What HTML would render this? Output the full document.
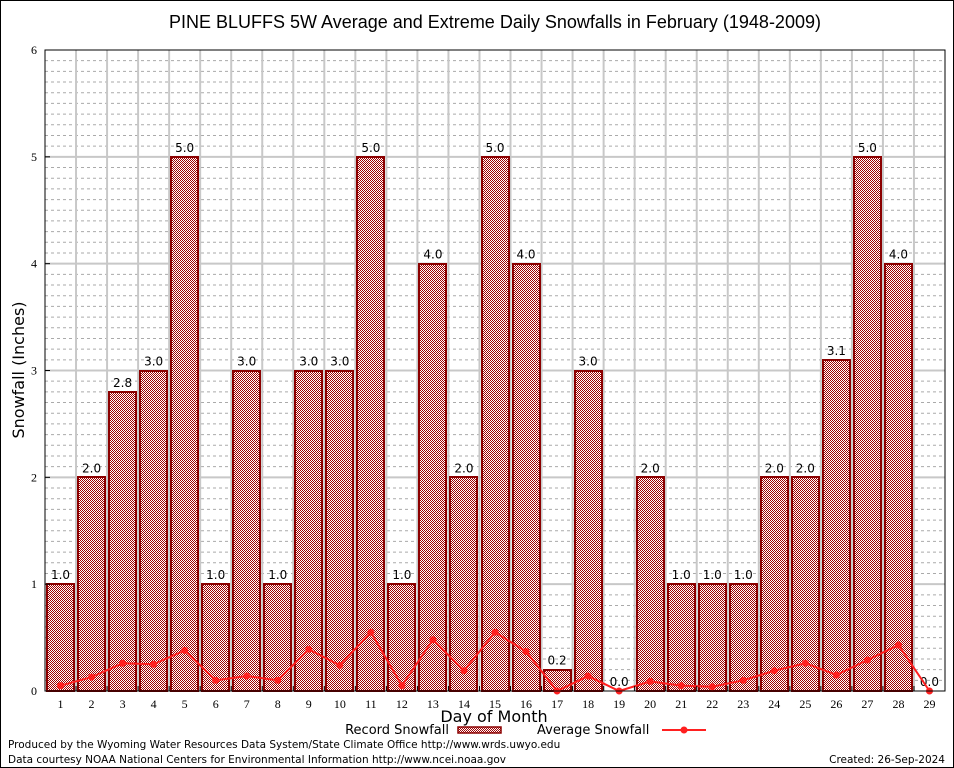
<!DOCTYPE html>
<html><head><meta charset="utf-8"><style>
html,body{margin:0;padding:0;background:#fff;}
svg{display:block;font-family:"DejaVu Sans","Liberation Sans",sans-serif;}
</style></head><body>
<svg id="chart" width="954" height="768" xmlns="http://www.w3.org/2000/svg">
<defs>
<pattern id="chk" width="2" height="2" patternUnits="userSpaceOnUse">
<rect width="2" height="2" fill="#fff"/><rect width="1" height="1" fill="#a00000"/><rect x="1" y="1" width="1" height="1" fill="#a00000"/>
</pattern>
</defs>
<rect x="0.5" y="0.5" width="953" height="767" fill="#fff" stroke="#000"/>
<text x="495" y="28" font-size="18" text-anchor="middle" font-family="Liberation Sans, sans-serif">PINE BLUFFS 5W Average and Extreme Daily Snowfalls in February (1948-2009)</text>
<g id="grid"></g>
<g id="bars"></g>
<g id="line"></g>
<rect x="45" y="50" width="900" height="641" fill="none" stroke="#000"/>
<g id="axes"></g>
<text transform="translate(24,370) rotate(-90)" font-size="16" text-anchor="middle">Snowfall (Inches)</text>
<text x="494" y="722" font-size="16" text-anchor="middle">Day of Month</text>
<g>
<text x="449" y="734" font-size="13" text-anchor="end">Record Snowfall</text>
<rect x="458" y="727" width="43" height="6" fill="url(#chk)" stroke="#8b0000" stroke-width="1.5"/>
</g>
<g>
<text x="537" y="734" font-size="13">Average Snowfall</text>
<line x1="662" y1="730" x2="706" y2="730" stroke="#ff2020" stroke-width="2"/>
<circle cx="684" cy="730" r="3.5" fill="#ff2020"/>
</g>
<text x="8" y="748" font-size="10.5">Produced by the Wyoming Water Resources Data System/State Climate Office http://www.wrds.uwyo.edu</text>
<text x="8" y="763" font-size="10.5">Data courtesy NOAA National Centers for Environmental Information http://www.ncei.noaa.gov</text>
<text x="945" y="763" font-size="10.5" text-anchor="end">Created: 26-Sep-2024</text>
</svg>
<script>
const days = [1,2,3,4,5,6,7,8,9,10,11,12,13,14,15,16,17,18,19,20,21,22,23,24,25,26,27,28,29];
const recordSnow = [1.0,2.0,2.8,3.0,5.0,1.0,3.0,1.0,3.0,3.0,5.0,1.0,4.0,2.0,5.0,4.0,0.2,3.0,0.0,2.0,1.0,1.0,1.0,2.0,2.0,3.1,5.0,4.0,0.0];
const avgSnow = [0.05,0.13,0.26,0.25,0.38,0.10,0.14,0.10,0.39,0.24,0.55,0.05,0.48,0.19,0.55,0.37,0.0,0.14,0.0,0.09,0.05,0.04,0.10,0.19,0.26,0.15,0.29,0.43,0.0];
const yTicks = [0,1,2,3,4,5,6];
const NS="http://www.w3.org/2000/svg";
const X0=45,X1=945,Y0=691,Y1=50,YMAX=6;
const slot=(X1-X0)/days.length;
const xs=d=>X0+(d-0.5)*slot;
const ys=v=>Y0-(v/YMAX)*(Y0-Y1);
function mk(tag,attrs,parent){const e=document.createElementNS(NS,tag);for(const k in attrs)e.setAttribute(k,attrs[k]);parent.appendChild(e);return e;}
const grid=document.getElementById('grid'),bars=document.getElementById('bars'),line=document.getElementById('line'),axes=document.getElementById('axes');
for(let i=1;i<YMAX*10;i++){if(i%10===0)continue;const y=ys(i/10);
const l=mk('line',{x1:X0,x2:X1,y1:y,y2:y,stroke:'#aaa','stroke-width':1,'stroke-dasharray':'3,3'},grid);

}
yTicks.forEach(t=>{const y=ys(t);
if(t>0&&t<YMAX){const l=mk('line',{x1:X0,x2:X1,y1:y,y2:y,stroke:'#c8c8c8','stroke-width':2},grid);

}
const tx=mk('text',{x:X0-8,y:y+4,'font-size':12,'text-anchor':'end','font-family':'Liberation Serif, serif'},axes);tx.textContent=t;


mk('line',{x1:X0,x2:X0+5,y1:y,y2:y,stroke:'#000'},axes);});
for(let i=1;i<days.length;i++){const x=X0+i*slot;
const l=mk('line',{x1:x,x2:x,y1:Y1,y2:Y0,stroke:'#c8c8c8','stroke-width':2},grid);


mk('line',{x1:x,x2:x,y1:Y0,y2:Y0-5,stroke:'#000'},axes);}
days.forEach((d,i)=>{const x=xs(d),v=recordSnow[i];const w=27;
if(v>0){const r=mk('rect',{x:Math.round(x-w/2),y:Math.round(ys(v)),width:w,height:Y0-Math.round(ys(v)),fill:'url(#chk)',stroke:'#8b0000','stroke-width':2},bars);

}
const lb=mk('text',{x:x,y:ys(v)-5,'font-size':12,'text-anchor':'middle'},bars);lb.textContent=v.toFixed(1);


const tl=mk('text',{x:x,y:Y0+17,'font-size':12,'text-anchor':'middle','font-family':'Liberation Serif, serif'},axes);tl.textContent=d;

});
const pts=days.map((d,i)=>xs(d)+','+ys(avgSnow[i])).join(' ');
const pl=mk('polyline',{points:pts,fill:'none',stroke:'#ff2020','stroke-width':2},line);


days.forEach((d,i)=>{const c=mk('circle',{cx:xs(d),cy:ys(avgSnow[i]),r:3.5,fill:'#ff2020'},line);

});
</script>
</body></html>
